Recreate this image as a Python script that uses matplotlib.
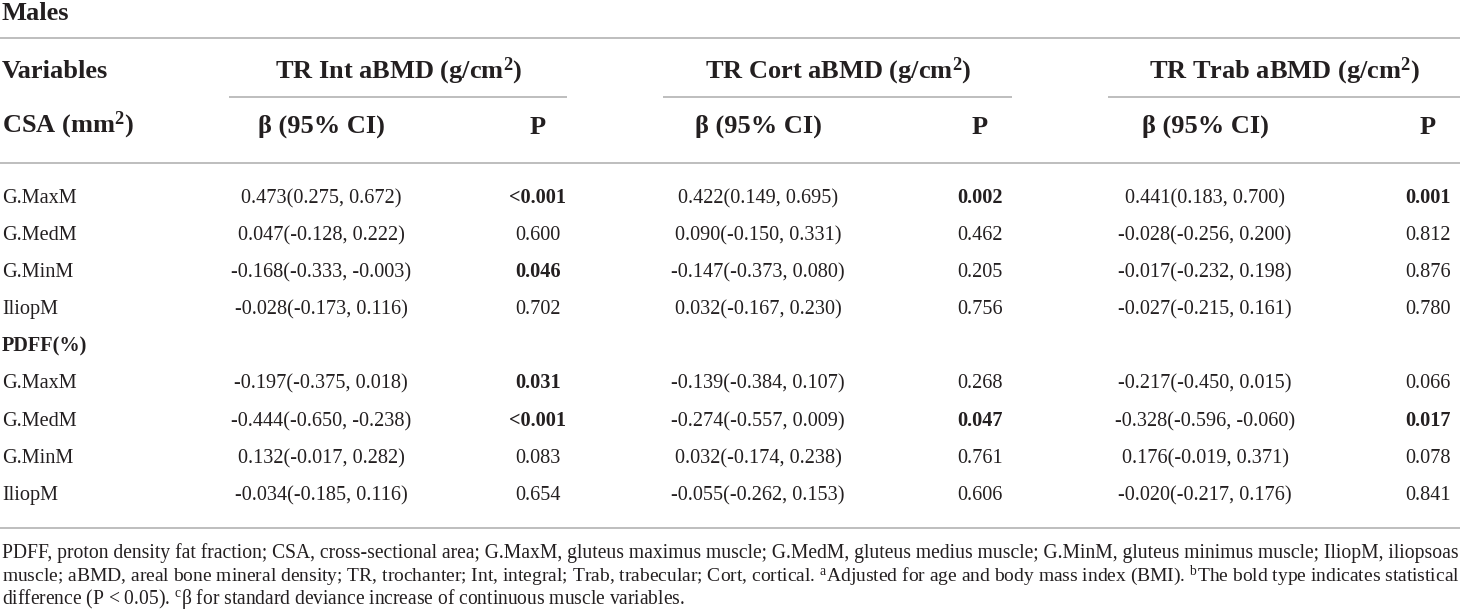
import numpy as np
import matplotlib
matplotlib.use("Agg")
import matplotlib.pyplot as plt

plt.rcParams["font.family"] = ["Liberation Serif", "DejaVu Serif"]
plt.rcParams["mathtext.fontset"] = "custom"
plt.rcParams["mathtext.rm"] = "Liberation Serif"
plt.rcParams["mathtext.it"] = "Liberation Serif:italic"
plt.rcParams["mathtext.bf"] = "Liberation Serif:bold"

# ---- table data ----
muscles = ["G.MaxM", "G.MedM", "G.MinM", "IliopM"]
sections = ["CSA (mm$^{\\mathbf{2}}$)", "PDFF(%)"]
groups = ["TR Int aBMD (g/cm$^{\\mathbf{2}}$)", "TR Cort aBMD (g/cm$^{\\mathbf{2}}$)",
          "TR Trab aBMD (g/cm$^{\\mathbf{2}}$)"]

# beta, lower, upper for CSA rows then PDFF rows
int_beta = [0.473, 0.047, -0.168, -0.028, -0.197, -0.444, 0.132, -0.034]
int_lo = [0.275, -0.128, -0.333, -0.173, -0.375, -0.650, -0.017, -0.185]
int_hi = [0.672, 0.222, -0.003, 0.116, 0.018, -0.238, 0.282, 0.116]
int_p = ["<0.001", "0.600", "0.046", "0.702", "0.031", "<0.001", "0.083", "0.654"]

cort_beta = [0.422, 0.090, -0.147, 0.032, -0.139, -0.274, 0.032, -0.055]
cort_lo = [0.149, -0.150, -0.373, -0.167, -0.384, -0.557, -0.174, -0.262]
cort_hi = [0.695, 0.331, 0.080, 0.230, 0.107, 0.009, 0.238, 0.153]
cort_p = ["0.002", "0.462", "0.205", "0.756", "0.268", "0.047", "0.761", "0.606"]

trab_beta = [0.441, -0.028, -0.017, -0.027, -0.217, -0.328, 0.176, -0.020]
trab_lo = [0.183, -0.256, -0.232, -0.215, -0.450, -0.596, -0.019, -0.217]
trab_hi = [0.700, 0.200, 0.198, 0.161, 0.015, -0.060, 0.371, 0.176]
trab_p = ["0.001", "0.812", "0.876", "0.780", "0.066", "0.017", "0.078", "0.841"]

notes = [
    "PDFF, proton density fat fraction; CSA, cross-sectional area; G.MaxM, gluteus maximus muscle; "
    "G.MedM, gluteus medius muscle; G.MinM, gluteus minimus muscle; IliopM, iliopsoas",
    "muscle; aBMD, areal bone mineral density; TR, trochanter; Int, integral; Trab, trabecular; "
    "Cort, cortical. $^{\\mathrm{a}}$Adjusted for age and body mass index (BMI). "
    "$^{\\mathrm{b}}$The bold type indicates statistical",
    "difference (P < 0.05). $^{\\mathrm{c}}$β for standard deviance increase of continuous muscle variables.",
]

# ---- layout ----
TXT = "#231f20"
RULE = "#b9b9b9"
W, H = 1460, 613
beta_x = [321, 758, 1205]
p_x = [538, 980, 1428]
head_x = [399, 838, 1284]
sub_rules = [(229, 567), (663, 1012), (1108, 1460)]
row_y = [196, 233, 270, 307, 381, 419, 456, 493]
pdff_y = 344

fig = plt.figure(figsize=(14.6, 6.13), dpi=100)
ax = fig.add_axes([0, 0, 1, 1])
ax.set_xlim(0, W)
ax.set_ylim(H, 0)
ax.axis("off")

def rule(y, x0=0, x1=W):
    ax.plot([x0, x1], [y, y], color=RULE, lw=1.3, solid_capstyle="butt")

hs = 19.0
ds = 14.6
hoff = 8.5   # baseline offset from visual centre, headers
doff = 7.0   # baseline offset, body

def head(x, y, s, ha="left"):
    ax.text(x, y + hoff, s, fontsize=hs, fontweight="bold", color=TXT, ha=ha, va="baseline")

head(2, 12, "Males")
rule(38)
head(2, 70, "Variables")
for g, cx, (a, b) in zip(groups, head_x, sub_rules):
    head(cx, 70, g, ha="center")
    rule(97, a, b)
head(2, 124, sections[0])
for bx, px in zip(beta_x, p_x):
    head(bx, 124, "β (95% CI)", ha="center")
    head(px, 125, "P", ha="center")
rule(163)

ax.text(2, pdff_y + doff, sections[1], fontsize=ds, fontweight="bold", color=TXT, va="baseline")

cols = [(int_beta, int_lo, int_hi, int_p), (cort_beta, cort_lo, cort_hi, cort_p),
        (trab_beta, trab_lo, trab_hi, trab_p)]
for i, y in enumerate(row_y):
    yb = y + doff
    ax.text(2, yb, muscles[i % 4], fontsize=ds, color=TXT, va="baseline")
    for (b, lo, hi, p), bx, px in zip(cols, beta_x, p_x):
        ax.text(bx, yb, "%.3f(%.3f, %.3f)" % (b[i], lo[i], hi[i]), fontsize=ds, color=TXT,
                ha="center", va="baseline")
        sig = float(p[i].lstrip("<")) < 0.05
        ax.text(px, yb, p[i], fontsize=ds, color=TXT, ha="center", va="baseline",
                fontweight="bold" if sig else "normal")
rule(528)

# footnote: size from the short last line; the two full lines are sized to
# reach the right edge, as in the justified original
r = fig.canvas.get_renderer()

def width(s, size):
    t = ax.text(0, 0, s, fontsize=size)
    w = t.get_window_extent(r).width
    t.remove()
    return w

fs = 14 * 686 / width(notes[-1], 14)
note_y = [552, 575, 598]
noff = 6.0
for k, line in enumerate(notes):
    size = fs if k == len(notes) - 1 else fs * 1455 / width(line, fs)
    ax.text(2, note_y[k] + noff, line, fontsize=size, color=TXT, va="baseline")

fig.savefig("out.png", dpi=100)
